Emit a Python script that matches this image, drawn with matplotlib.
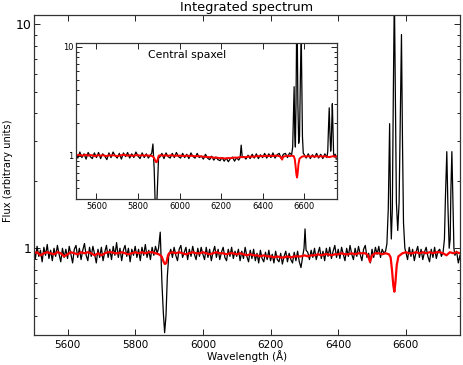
import numpy as np
import matplotlib
matplotlib.use("Agg")
import matplotlib.pyplot as plt
from matplotlib.ticker import LogLocator, NullFormatter, FixedLocator, FixedFormatter

# ---------------- Integrated spectrum (main panel) ----------------
# observed (black): continuum segments sampled every 5 A, start wavelength in name
int_obs_5500 = [0.99,0.90,1.02,0.92,0.98,0.87,1.01,0.93,1.04,0.90,0.98,0.88,1.00,0.92,1.03,0.94,0.87,1.00,0.91,0.99,
                0.90,1.02,0.94,0.86,0.99,1.03,0.91,1.00,0.89,0.98,1.05,0.93,0.88,1.01,0.92,1.02,0.94,0.86,0.99,0.91,
                1.01,0.88,0.96,1.03,0.91,0.99,0.89,1.02,0.93,1.06,0.91,1.00,0.88,0.98,1.03,0.92,1.00,0.87,0.99,0.93,
                1.02,0.91,0.99,0.88,1.01,0.93,1.04,0.91,0.98,0.89,1.01,0.93,1.02,0.95]
int_obs_5905 = [0.99,0.91,1.01,0.93,0.88,0.99,1.03,0.91,0.96,1.01,0.89,0.99,0.92,1.02,0.94,0.89,1.00,0.92,1.01,
                0.94,0.89,1.01,0.91,0.99,0.88,0.96,1.02,0.91,0.99,0.89,0.96,1.01,0.91,0.88,0.99,0.92,1.01,0.90,0.97,
                0.92,0.99,0.88,0.97,0.90,1.01,0.92,0.87,0.98,0.90,0.99,0.88,0.95,0.86,0.98,0.90,0.87,0.96,0.89,0.98,
                0.88,0.94,0.86,0.97,0.89,0.87,0.95,0.85,0.92,0.97,0.87,0.95,0.89,0.86,0.96,0.88,0.97,0.87,0.82]
int_obs_6310 = [0.96,0.89,0.98,0.91,1.00,0.89,0.95,1.01,0.90,0.97,0.88,1.00,0.92,1.01,0.90,0.97,1.03,0.91,
                0.99,0.90,1.01,0.94,0.88,1.00,0.92,1.03,0.94,0.89,1.00,0.92,1.02,0.94,0.88,0.99,1.03,0.91,0.95,0.86,
                0.99,0.91,1.01,0.94,1.02,0.91,0.99,0.95]
int_obs_6600 = [0.96,0.89,1.01,0.92,0.99,0.88,0.96,1.02,0.91,0.99,0.89,0.96,1.01,0.92,0.87,0.99,0.91,1.01,0.90,0.97,0.99,0.92]
int_obs_6750 = [0.97,0.86,0.93]
# observed line regions
int_nad_wave = [5869, 5874, 5879, 5883, 5887, 5891, 5895, 5899]
int_nad_flux = [1.00, 1.18, 0.70, 0.52, 0.42, 0.50, 0.75, 0.92]
int_oi_wave = [6295, 6299, 6302, 6305]
int_oi_flux = [0.92, 1.00, 1.22, 0.98]
int_ha_wave = [6540, 6544, 6548, 6552, 6555, 6557, 6560, 6563, 6566, 6569, 6572, 6576, 6580, 6584, 6587, 6590, 6593, 6597]
int_ha_flux = [0.97, 1.05, 1.50, 3.60, 1.40, 1.10, 1.50, 5.00, 14.0, 4.50, 1.60, 1.20, 1.60, 4.50, 9.00, 3.00, 1.30, 1.00]
int_sii_wave = [6710, 6714, 6717, 6721, 6724, 6728, 6731, 6733, 6736, 6739, 6742, 6745]
int_sii_flux = [0.96, 1.10, 1.70, 2.70, 1.60, 1.00, 1.10, 1.80, 2.70, 1.60, 1.00, 0.93]

# model (red): segments sampled every 10 A
int_mod_5500 = [0.95,0.96,0.93,0.95,0.96,0.95,0.94,0.96,0.95,0.92,
                0.94,0.96,0.95,0.94,0.96,0.95,0.96,0.95,0.93,0.95,
                0.93,0.95,0.96,0.96,0.95,0.95,0.96,0.95,0.94,0.95,
                0.96,0.95,0.96,0.95,0.96,0.96,0.95,0.94]
int_mod_nad_wave = [5878, 5884, 5888, 5892, 5897]
int_mod_nad_flux = [0.92, 0.87, 0.85, 0.86, 0.93]
int_mod_5900 = [0.95,0.96,0.95,0.96,0.95,0.94,0.95,0.96,0.95,0.95,
                0.96,0.95,0.94,0.95,0.96,0.95,0.95,0.94,0.95,0.95,
                0.94,0.95,0.94,0.93,0.94,0.93,0.93,0.92,0.93,0.92,
                0.92,0.91,0.92,0.91,0.91,0.92,0.91,0.92,0.92,0.92,
                0.93,0.92,0.93,0.93,0.94,0.93,0.94,0.94,0.93,0.94,
                0.94,0.95,0.94,0.94,0.95,0.94,0.95,0.95,0.95]
int_mod_hb_wave = [6488, 6494, 6500]
int_mod_hb_flux = [0.93, 0.87, 0.93]
int_mod_6510 = [0.95,0.95,0.94,0.95,0.94]
int_mod_ha_wave = [6555, 6559, 6563, 6566, 6569, 6573, 6578]
int_mod_ha_flux = [0.91, 0.80, 0.68, 0.64, 0.70, 0.84, 0.92]
int_mod_6590 = [0.95,0.96,0.95,0.95,0.96,0.95,0.96,0.95,0.96,0.95,0.96,0.96,0.95,0.93,0.96,0.95,0.96,0.95]

# ---------------- Central spaxel (inset) ----------------
cen_obs_5500 = [1.05,0.95,1.08,0.96,1.04,0.93,1.07,0.98,0.94,1.06,
                0.96,1.07,0.94,1.04,0.99,0.92,1.06,0.96,1.08,1.00,
                0.95,1.05,0.93,1.06,0.98,1.07,0.95,1.04,0.96,1.08,
                0.99,0.94,1.06,0.96,1.04,0.95,1.02]
cen_nad_wave = [5866, 5872, 5878, 5884, 5889, 5894, 5899]
cen_nad_flux = [1.05, 1.28, 0.75, 0.30, 0.30, 0.55, 0.95]
cen_obs_5905 = [0.97,1.05,0.94,1.06,0.98,0.95,1.05,0.96,1.07,0.98,
                0.95,1.05,0.96,1.03,0.94,1.06,0.98,0.95,1.05,0.96,
                0.99,0.93,1.03,0.95,0.92,0.99,0.91,0.97,0.92,0.90,
                0.96,0.89,0.95,0.88,0.94,0.97,0.89,0.96,0.91]
cen_oi_wave = [6292, 6297, 6302]
cen_oi_flux = [0.96, 1.25, 0.97]
cen_obs_6310 = [0.98,0.93,1.01,0.94,1.03,0.95,1.04,0.94,1.02,0.96,
                1.05,0.95,1.04,0.96,1.06,0.95,1.02,1.05,0.94,1.03,
                1.05,0.96,1.06]
cen_ha_wave = [6540, 6545, 6548, 6552, 6555, 6558, 6561, 6564, 6567, 6570, 6574, 6578, 6582, 6586, 6589, 6592, 6596]
cen_ha_flux = [1.02, 1.20, 2.00, 4.30, 1.60, 1.20, 3.00, 14.0, 14.0, 3.00, 1.30, 1.50, 5.00, 14.0, 5.00, 1.50, 1.05]
cen_obs_6600 = [1.03,0.95,1.04,0.94,1.02,0.96,1.05,0.95,1.03,0.94,1.04,0.96]
cen_sii_wave = [6714, 6717, 6721, 6724, 6728, 6731, 6733, 6736, 6739, 6742]
cen_sii_flux = [1.10, 1.70, 2.75, 1.70, 1.10, 1.30, 1.90, 3.00, 1.70, 1.05]
cen_obs_6745 = [0.97, 1.03, 0.93]

cen_mod_5500 = [1.02,1.01,1.02,1.00,1.01,1.02,1.00,1.01,1.01,0.99,
                1.00,1.01,1.00,1.01,1.00,0.99,1.01,1.00,1.01,1.00,
                0.99,1.00,1.01,1.02,1.01,1.00,1.01,1.00,1.00,1.01,
                1.01,1.00,1.01,1.00,1.01,1.00,1.00,0.99]
cen_mod_nad_wave = [5878, 5884, 5888, 5892, 5897]
cen_mod_nad_flux = [0.95, 0.89, 0.87, 0.88, 0.96]
cen_mod_5900 = [1.00,1.01,1.00,1.01,1.00,1.00,1.01,1.00,1.00,1.00,
                1.00,1.00,0.99,1.00,1.00,0.99,1.00,0.99,0.99,0.99,
                0.99,0.98,0.98,0.97,0.97,0.97,0.96,0.96,0.96,0.95,
                0.95,0.95,0.94,0.95,0.95,0.95,0.96,0.96,0.96,0.97,
                0.97,0.97,0.97,0.98,0.98,0.98,0.98,0.99,0.99,0.99,
                0.99,0.99,1.00,0.99,1.00,0.99,1.00,1.00,0.99]
cen_mod_hb_wave = [6488, 6494, 6500]
cen_mod_hb_flux = [0.97, 0.92, 0.98]
cen_mod_6510 = [0.99,1.00,0.99,1.00,0.99]
cen_mod_ha_wave = [6555, 6559, 6563, 6566, 6569, 6573, 6578]
cen_mod_ha_flux = [0.93, 0.80, 0.67, 0.63, 0.69, 0.84, 0.94]
cen_mod_6590 = [0.98,0.99,0.98,0.99,0.98,0.99,0.98,0.99,0.98,0.99,0.98,0.99,0.98,0.97,0.98,0.99,0.98,0.99]

x_ticks = [5600, 5800, 6000, 6200, 6400, 6600]
y_ticks = [1, 10]
y_ticklabels = ["1", "10"]


def seg(start, step, vals):
    return [(start + step * i, v) for i, v in enumerate(vals)]


def pairs(w, f):
    return list(zip(w, f))


def assemble(*parts):
    pts = sorted([p for part in parts for p in part])
    return np.array([p[0] for p in pts]), np.array([p[1] for p in pts])


int_obs = assemble(seg(5500, 5, int_obs_5500), pairs(int_nad_wave, int_nad_flux),
                   seg(5905, 5, int_obs_5905), pairs(int_oi_wave, int_oi_flux),
                   seg(6310, 5, int_obs_6310), pairs(int_ha_wave, int_ha_flux),
                   seg(6600, 5, int_obs_6600), pairs(int_sii_wave, int_sii_flux),
                   seg(6750, 5, int_obs_6750))
int_mod = assemble(seg(5500, 10, int_mod_5500), pairs(int_mod_nad_wave, int_mod_nad_flux),
                   seg(5900, 10, int_mod_5900), pairs(int_mod_hb_wave, int_mod_hb_flux),
                   seg(6510, 10, int_mod_6510), pairs(int_mod_ha_wave, int_mod_ha_flux),
                   seg(6590, 10, int_mod_6590))
cen_obs = assemble(seg(5500, 10, cen_obs_5500), pairs(cen_nad_wave, cen_nad_flux),
                   seg(5905, 10, cen_obs_5905), pairs(cen_oi_wave, cen_oi_flux),
                   seg(6310, 10, cen_obs_6310), pairs(cen_ha_wave, cen_ha_flux),
                   seg(6600, 10, cen_obs_6600), pairs(cen_sii_wave, cen_sii_flux),
                   seg(6745, 5, cen_obs_6745))
cen_mod = assemble(seg(5500, 10, cen_mod_5500), pairs(cen_mod_nad_wave, cen_mod_nad_flux),
                   seg(5900, 10, cen_mod_5900), pairs(cen_mod_hb_wave, cen_mod_hb_flux),
                   seg(6510, 10, cen_mod_6510), pairs(cen_mod_ha_wave, cen_mod_ha_flux),
                   seg(6590, 10, cen_mod_6590))

W, H = 463, 365
fig = plt.figure(figsize=(W / 100, H / 100), dpi=100)


def style(ax, xl, ylim, xsize, ysize, xpad, ypad):
    ax.set_yscale("log")
    ax.set_xlim(*xl)
    ax.set_ylim(*ylim)
    ax.xaxis.set_major_locator(FixedLocator(x_ticks))
    ax.yaxis.set_major_locator(FixedLocator(y_ticks))
    ax.yaxis.set_major_formatter(FixedFormatter(y_ticklabels))
    ax.yaxis.set_minor_locator(LogLocator(base=10, subs=np.arange(2, 10) * 1.0))
    ax.yaxis.set_minor_formatter(NullFormatter())
    ax.tick_params(which="both", direction="in", top=True, right=True, colors="black")
    ax.tick_params(which="major", length=4, width=0.6)
    ax.tick_params(which="minor", length=2.5, width=0.6)
    ax.tick_params(axis="x", labelsize=xsize, pad=xpad)
    ax.tick_params(axis="y", labelsize=ysize, pad=ypad)
    for s in ax.spines.values():
        s.set_linewidth(0.9)
        s.set_color("#333333")


ax = fig.add_axes([33.7 / W, 1 - 335 / H, (460 - 33.7) / W, (335 - 15) / H])
ax.plot(int_obs[0], int_obs[1], color="black", lw=0.9)
ax.plot(int_mod[0], int_mod[1], color="red", lw=1.6)
style(ax, (5500, 6760), (0.41, 11), 7.5, 9, 3.5, 1.5)

axi = fig.add_axes([75.7 / W, 1 - 199 / H, (336.7 - 75.7) / W, (199 - 42.7) / H])
axi.plot(cen_obs[0], cen_obs[1], color="black", lw=0.9)
axi.plot(cen_mod[0], cen_mod[1], color="red", lw=1.4)
style(axi, (5500, 6757), (0.40, 10.9), 6, 6, 2, 1.5)
axi.text(148.3 / W, 1 - 55 / H, "Central spaxel", transform=fig.transFigure,
         fontsize=7.8, ha="left", va="center")

fig.text(247 / W, 1 - 7 / H, "Integrated spectrum", fontsize=9.3, ha="center", va="center")
fig.text(247 / W, 1 - 356 / H, "Wavelength (Å)", fontsize=7.5, ha="center", va="center")
fig.text(8 / W, 1 - 171 / H, "Flux (arbitrary units)", fontsize=7.1, ha="center", va="center", rotation=90)

fig.savefig("out.png", dpi=100)
